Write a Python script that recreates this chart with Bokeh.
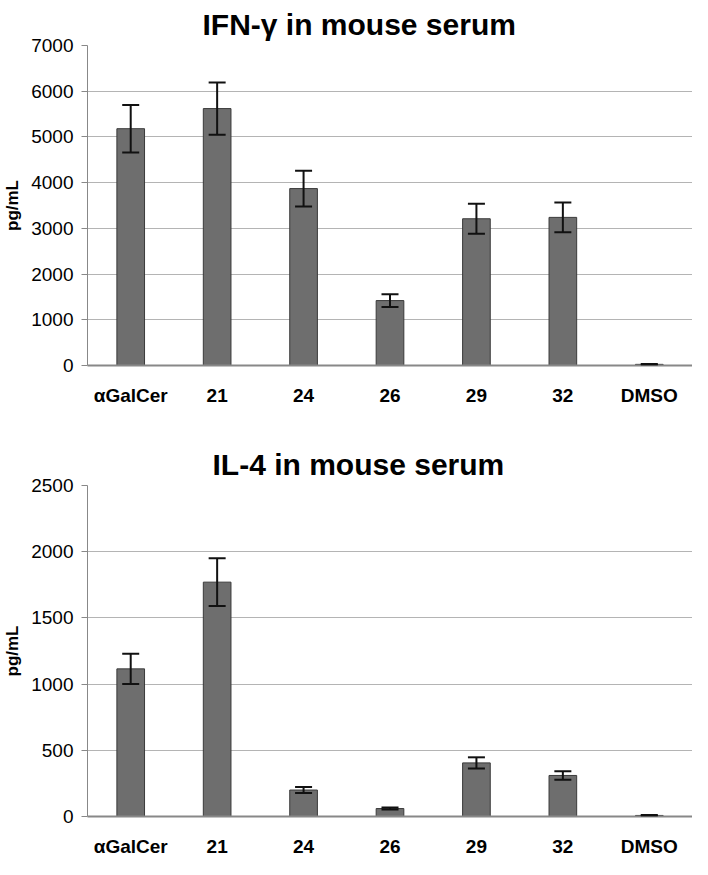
from bokeh.plotting import figure
from bokeh.models import ColumnDataSource, Whisker, TeeHead, Title, FactorRange, SingleIntervalTicker
from bokeh.layouts import column
from bokeh.embed import file_html
from bokeh.resources import INLINE

categories = ["αGalCer", "21", "24", "26", "29", "32", "DMSO"]

ifn_values = [5180, 5620, 3870, 1420, 3210, 3240, 25]
ifn_errors = [520, 570, 390, 140, 330, 325, 10]

il4_values = [1115, 1770, 200, 60, 405, 310, 8]
il4_errors = [115, 180, 22, 8, 42, 32, 3]

ifn_title = "IFN-γ in mouse serum"
il4_title = "IL-4 in mouse serum"
y_label = "pg/mL"

FONT = "Liberation Sans"


def make_chart(title_text, values, errors, ymax, step, height, title_offset, bottom_border):
    src = ColumnDataSource(dict(
        cat=categories,
        val=values,
        upper=[v + e for v, e in zip(values, errors)],
        lower=[max(v - e, 0) for v, e in zip(values, errors)],
    ))
    p = figure(x_range=FactorRange(*categories), y_range=(0, ymax),
               width=692, height=height, output_backend="svg",
               toolbar_location=None, min_border_left=84, min_border_right=0,
               min_border_top=42, min_border_bottom=bottom_border)
    p.title = Title(text=title_text, text_font=FONT, text_font_size="30px",
                    text_font_style="bold", text_color="#000000", align="left",
                    offset=title_offset)
    p.vbar(x="cat", top="val", width=0.32, source=src, fill_color="#6e6e6e",
           line_color="#3a3a3a", line_width=1)
    w = Whisker(base="cat", upper="upper", lower="lower", source=src,
                line_color="#111111", line_width=2, level="overlay",
                upper_head=TeeHead(size=17, line_color="#111111", line_width=2),
                lower_head=TeeHead(size=17, line_color="#111111", line_width=2))
    p.add_layout(w)

    p.outline_line_color = None
    p.xgrid.grid_line_color = None
    p.ygrid.grid_line_color = "#b4b4b4"
    p.ygrid.grid_line_width = 1
    p.yaxis.ticker = SingleIntervalTicker(interval=step)
    p.yaxis.axis_line_color = "#888888"
    p.yaxis.major_tick_line_color = "#888888"
    p.yaxis.major_tick_out = 6
    p.yaxis.major_tick_in = 0
    p.yaxis.minor_tick_line_color = None
    p.yaxis.major_label_text_font = FONT
    p.yaxis.major_label_text_font_size = "19px"
    p.yaxis.major_label_text_color = "#000000"
    p.yaxis.major_label_standoff = 8
    p.yaxis.axis_label = y_label
    p.yaxis.axis_label_text_font = FONT
    p.yaxis.axis_label_text_font_size = "17px"
    p.yaxis.axis_label_text_font_style = "bold"
    p.yaxis.axis_label_text_color = "#000000"
    p.yaxis.axis_label_standoff = 6

    p.xaxis.axis_line_color = "#888888"
    p.xaxis.axis_line_width = 2
    p.xaxis.major_tick_line_color = None
    p.xaxis.minor_tick_line_color = None
    p.xaxis.major_label_text_font = FONT
    p.xaxis.major_label_text_font_size = "19px"
    p.xaxis.major_label_text_font_style = "bold"
    p.xaxis.major_label_text_color = "#000000"
    p.xaxis.major_label_standoff = 13
    return p


p1 = make_chart(ifn_title, ifn_values, ifn_errors, 7000, 1000, 440, 115, 75)
p2 = make_chart(il4_title, il4_values, il4_errors, 2500, 500, 419, 125, 38)

layout = column(p1, p2, spacing=0)
open("out.html", "w").write(file_html(layout, INLINE))
